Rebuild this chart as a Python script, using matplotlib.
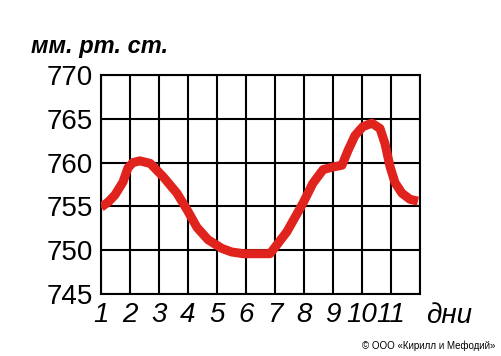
import matplotlib
matplotlib.use('Agg')
import matplotlib.pyplot as plt

# атмосферное давление по дням
days = [1.0, 1.25, 1.48, 1.76, 1.93, 2.1, 2.34, 2.7, 3.14, 3.62, 3.97, 4.31,
        4.69, 5.17, 5.5, 5.9, 6.4, 6.83, 7.41, 7.97, 8.3, 8.66, 9.0, 9.31,
        9.52, 9.76, 10.03, 10.34, 10.62, 10.79, 10.97, 11.14, 11.38, 11.66,
        11.93]
pressure = [754.9, 755.5, 756.3, 757.8, 759.4, 760.0, 760.2, 759.9, 758.4,
            756.5, 754.6, 752.6, 751.2, 750.2, 749.8, 749.6, 749.6, 749.6,
            752.1, 755.4, 757.6, 759.2, 759.5, 759.7, 761.4, 763.1, 764.1,
            764.5, 763.9, 762.2, 759.5, 757.7, 756.5, 755.8, 755.6]

x_ticks = list(range(1, 13))
x_labels = [str(d) for d in range(1, 12)] + ['']
y_ticks = [745, 750, 755, 760, 765, 770]

plt.rcParams['font.family'] = ['Liberation Sans', 'DejaVu Sans']

fig = plt.figure(figsize=(5.01, 3.56), dpi=100)
ax = fig.add_axes([0.2016, 0.1742, 0.8383 - 0.2016, 0.7893 - 0.1742])

ax.plot(days, pressure, color='#e0231c', lw=6.5, solid_capstyle='butt',
        solid_joinstyle='round', zorder=3)

ax.set_xlim(1, 12)
ax.set_ylim(745, 770)
ax.set_xticks(x_ticks)
ax.set_xticklabels(x_labels, fontsize=20, fontstyle='italic')
ax.set_yticks(y_ticks)
ax.set_yticklabels([str(v) for v in y_ticks], fontsize=20)
ax.tick_params(length=0, pad=6)
ax.grid(True, color='black', lw=1.5)
for s in ax.spines.values():
    s.set_linewidth(1.5)

fig.text(31 / 501, 1 - 53 / 356, 'мм. рт. ст.', fontsize=17, fontweight='bold',
         fontstyle='italic', ha='left', va='baseline')
fig.text(426 / 501, 1 - 323 / 356, 'дни', fontsize=20, fontstyle='italic',
         ha='left', va='baseline')
fig.text(495 / 501, 1 - 349 / 356, '© ООО «Кирилл и Мефодий»', fontsize=7,
         ha='right', va='baseline')

fig.savefig('out.png', dpi=100)
